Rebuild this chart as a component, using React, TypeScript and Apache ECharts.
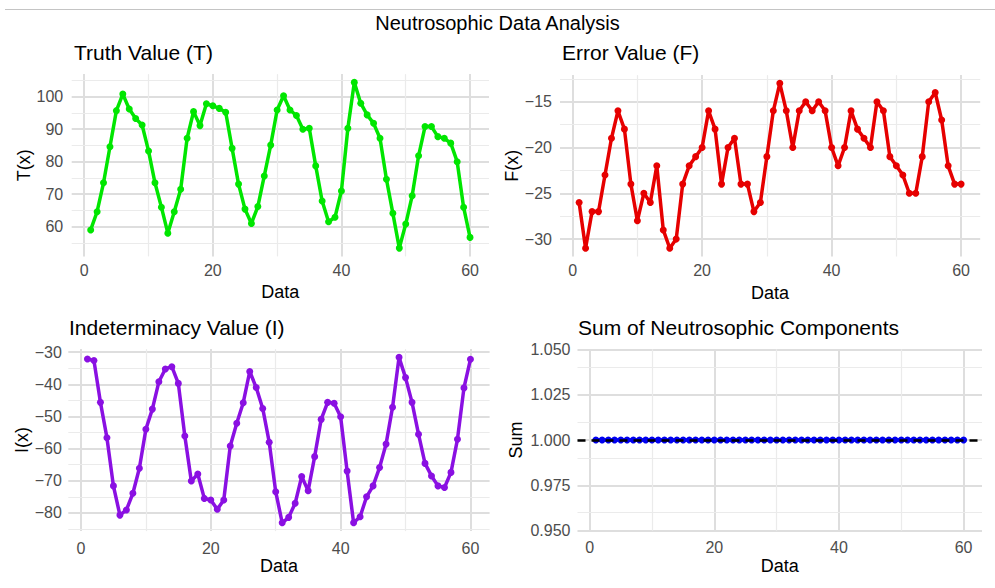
import React, { useEffect, useRef } from "react";
import * as echarts from "echarts";

const FONT = "'Liberation Sans', Arial, Helvetica, sans-serif";

const mainTitle = "Neutrosophic Data Analysis";

const truthValues = [
  59, 64.6, 73.5, 84.6, 95.7, 100.8, 96.2, 93.3, 91.3, 83.3,
  73.5, 66, 58, 64.6, 71.5, 87.2, 95.4, 91.1, 97.8, 97.2,
  96.4, 95.2, 84.1, 73.1, 65.4, 61, 66.2, 75.6, 85.1, 95.9,
  100.3, 95.9, 94.2, 90, 90.3, 78.7, 67.9, 61.5, 62.9, 71,
  90.3, 104.4, 98, 94.4, 91.8, 87.2, 74.6, 64.1, 53.4, 60.8,
  69.5, 81.8, 90.8, 90.8, 87.7, 87.2, 85.7, 80, 66, 56.7,
];

const errorValues = [
  -26, -31, -27, -27, -23, -19, -16, -18, -24, -28,
  -25, -26, -22, -29, -31, -30, -24, -22, -21, -20,
  -16, -18, -24, -20, -19, -24, -24, -27, -26, -21,
  -16, -13, -16, -20, -16, -15, -16, -15, -16, -20,
  -22, -20, -16, -18, -19, -20, -15, -16, -21, -22,
  -23, -25, -25, -21, -15, -14, -17, -22, -24, -24,
];

const indeterminacyValues = [
  -32.1, -32.6, -45.6, -56.6, -71.6, -80.7, -79.1, -73.9, -66.1, -54.0,
  -47.7, -39.2, -35.2, -34.5, -39.7, -56.1, -70.1, -67.9, -75.5, -76.0,
  -78.9, -76.0, -59.2, -52.1, -45.7, -36.0, -41.0, -47.5, -58.0, -73.4,
  -83.1, -81.4, -77.0, -68.7, -73.1, -62.5, -50.9, -45.6, -45.9, -50.1,
  -67.0, -83.1, -81.2, -75.0, -71.6, -65.9, -58.6, -47.1, -31.6, -37.9,
  -45.6, -55.5, -64.6, -68.5, -71.6, -72.1, -67.4, -57.1, -41.1, -32.2,
];

const sumValues = [
  1, 1, 1, 1, 1, 1, 1, 1, 1, 1,
  1, 1, 1, 1, 1, 1, 1, 1, 1, 1,
  1, 1, 1, 1, 1, 1, 1, 1, 1, 1,
  1, 1, 1, 1, 1, 1, 1, 1, 1, 1,
  1, 1, 1, 1, 1, 1, 1, 1, 1, 1,
  1, 1, 1, 1, 1, 1, 1, 1, 1, 1,
];
const sumReference = 1;

const xMinorTicks = [10, 30, 50];
const truthMinorTicks = [55, 65, 75, 85, 95, 105];
const errorMinorTicks = [-27.5, -22.5, -17.5, -12.5];
const indeterminacyMinorTicks = [-85, -75, -65, -55, -45, -35];
const sumMinorTicks = [0.9625, 0.9875, 1.0125, 1.0375];

const observation = truthValues.map((_, i) => i + 1);

function padded(values: number[]): [number, number] {
  const lo = Math.min(...values);
  const hi = Math.max(...values);
  const pad = (hi - lo) * 0.05;
  return [lo - pad, hi + pad];
}

const isMultiple = (v: number, step: number) =>
  Math.abs(v / step - Math.round(v / step)) < 1e-6;

const fmt = (v: number, decimals: number) =>
  v.toFixed(decimals).replace("-", "\u2212");

type Panel = {
  title: string;
  yName: string;
  values: number[];
  color: string;
  grid: { left: number; top: number; width: number; height: number };
  titlePos: { left: number; top: number };
  yMinor: number[];
  yStep: number;
  yExtent: [number, number];
  ySplit?: number;
  yInterval?: number;
  decimals: number;
  yNameGap: number;
  yLabelMargin: number;
  xLabelMargin: number;
  xNameGap: number;
  reference?: number;
};

const panels: Panel[] = [
  {
    title: "Truth Value (T)",
    yName: "T(x)",
    values: truthValues,
    color: "#00e600",
    grid: { left: 71.7, top: 74.1, width: 417.3, height: 182.3 },
    titlePos: { left: 74, top: 42 },
    yMinor: truthMinorTicks,
    yStep: 10,
    yExtent: padded(truthValues),
    ySplit: 5,
    decimals: 0,
    yNameGap: 38,
    yLabelMargin: 8.5,
    xLabelMargin: 6,
    xNameGap: 27,
  },
  {
    title: "Error Value (F)",
    yName: "F(x)",
    values: errorValues,
    color: "#e60000",
    grid: { left: 560, top: 75.1, width: 420.2, height: 181.4 },
    titlePos: { left: 562, top: 42 },
    yMinor: errorMinorTicks,
    yStep: 5,
    yExtent: padded(errorValues),
    ySplit: 4,
    decimals: 0,
    yNameGap: 36.5,
    yLabelMargin: 8,
    xLabelMargin: 6,
    xNameGap: 27,
  },
  {
    title: "Indeterminacy Value (I)",
    yName: "I(x)",
    values: indeterminacyValues,
    color: "#8a10e2",
    grid: { left: 68.3, top: 349.1, width: 421.3, height: 182 },
    titlePos: { left: 69, top: 317 },
    yMinor: indeterminacyMinorTicks,
    yStep: 10,
    yExtent: padded(indeterminacyValues),
    ySplit: 5,
    decimals: 0,
    yNameGap: 34,
    yLabelMargin: 6.5,
    xLabelMargin: 9,
    xNameGap: 26,
  },
  {
    title: "Sum of Neutrosophic Components",
    yName: "Sum",
    values: sumValues,
    color: "#0000f0",
    grid: { left: 577.5, top: 349.3, width: 404.5, height: 181.4 },
    titlePos: { left: 578, top: 317 },
    yMinor: sumMinorTicks,
    yStep: 0.025,
    yExtent: [0.95, 1.05],
    yInterval: 0.025,
    decimals: 3,
    yNameGap: 53,
    yLabelMargin: 7,
    xLabelMargin: 9,
    xNameGap: 26,
    reference: sumReference,
  },
];

const xExtent = padded(observation);

export default function App() {
  const ref = useRef<HTMLDivElement>(null);

  useEffect(() => {
    if (!ref.current) return;
    const chart = echarts.init(ref.current, undefined, { renderer: "svg" });

    const titles: any[] = [
      {
        text: mainTitle,
        left: "center",
        top: 13,
        padding: 0,
        textStyle: { fontSize: 20, fontWeight: "normal", color: "#000", fontFamily: FONT },
      },
      ...panels.map((p) => ({
        text: p.title,
        left: p.titlePos.left,
        top: p.titlePos.top,
        padding: 0,
        textStyle: { fontSize: 21, fontWeight: "normal", color: "#000", fontFamily: FONT },
      })),
    ];

    const grids = panels.map((p) => ({ ...p.grid, containLabel: false }));

    const xAxes = panels.map((p, g) => ({
      type: "value",
      gridIndex: g,
      min: xExtent[0],
      max: xExtent[1],
      splitNumber: 3,
      axisLine: { show: false },
      axisTick: { show: false },
      axisLabel: {
        margin: p.xLabelMargin,
        color: "#4d4d4d",
        fontSize: 16,
        fontFamily: FONT,
        formatter: (v: number) => (isMultiple(v, 20) ? fmt(v, 0) : ""),
      },
      splitLine: {
        show: true,
        showMinLine: false,
        showMaxLine: false,
        lineStyle: { color: "#dedede", width: 2 },
      },
      name: "Data",
      nameLocation: "middle",
      nameGap: p.xNameGap,
      nameTextStyle: { fontSize: 18, color: "#000", fontFamily: FONT },
    }));

    const yAxes = panels.map((p, g) => {
      const ax: any = {
        type: "value",
        gridIndex: g,
        min: p.yExtent[0],
        max: p.yExtent[1],
        axisLine: { show: false },
        axisTick: { show: false },
        axisLabel: {
          margin: p.yLabelMargin,
          color: "#4d4d4d",
          fontSize: 16,
          fontFamily: FONT,
          formatter: (v: number) => (isMultiple(v, p.yStep) ? fmt(v, p.decimals) : ""),
        },
        splitLine: {
          show: true,
          showMinLine: p.yInterval != null,
          showMaxLine: p.yInterval != null,
          lineStyle: { color: "#dedede", width: 2 },
        },
        name: p.yName,
        nameLocation: "middle",
        nameGap: p.yNameGap,
        nameTextStyle: { fontSize: 18, color: "#000", fontFamily: FONT },
      };
      if (p.yInterval != null) ax.interval = p.yInterval;
      else ax.splitNumber = p.ySplit;
      return ax;
    });

    const series: any[] = [];
    panels.forEach((p, g) => {
      const data = p.values.map((v, i) => [observation[i], v]);
      series.push({
        type: "line",
        xAxisIndex: g,
        yAxisIndex: g,
        data,
        symbol: "none",
        lineStyle: { opacity: 0 },
        silent: true,
        z: 1,
        markLine: {
          silent: true,
          z: 1,
          symbol: ["none", "none"],
          label: { show: false },
          emphasis: { disabled: true },
          lineStyle: { color: "#ebebeb", width: 1.2, type: "solid" },
          data: [
            ...xMinorTicks.map((v) => ({ xAxis: v })),
            ...p.yMinor.map((v) => ({ yAxis: v })),
          ],
        },
      });
      const main: any = {
        type: "line",
        xAxisIndex: g,
        yAxisIndex: g,
        data,
        z: 10,
        symbol: "circle",
        symbolSize: 7,
        showSymbol: true,
        lineStyle: { color: p.color, width: 3.5 },
        itemStyle: { color: p.color },
        emphasis: { disabled: true },
      };
      if (p.reference != null) {
        main.markLine = {
          silent: true,
          z: 20,
          symbol: ["none", "none"],
          label: { show: false },
          emphasis: { disabled: true },
          lineStyle: { color: "#000", width: 2.5, type: [8, 6] },
          data: [{ yAxis: p.reference }],
        };
      }
      series.push(main);
    });

    chart.setOption({
      animation: false,
      backgroundColor: "#ffffff",
      title: titles,
      grid: grids,
      xAxis: xAxes,
      yAxis: yAxes,
      series,
      graphic: [
        {
          type: "line",
          shape: { x1: 5, y1: 9.5, x2: 995, y2: 9.5 },
          style: { stroke: "#c4c4c4", lineWidth: 1 },
          silent: true,
        },
      ],
    });

    return () => chart.dispose();
  }, []);

  return (
    <div
      ref={ref}
      style={{ position: "fixed", left: 0, top: 0, width: 995, height: 588, background: "#fff" }}
    />
  );
}
